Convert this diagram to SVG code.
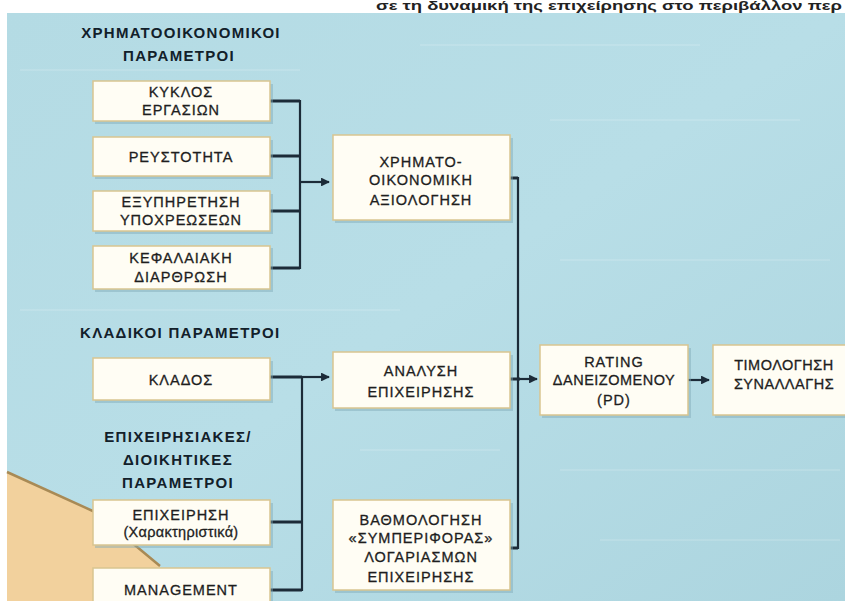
<svg xmlns="http://www.w3.org/2000/svg" width="845" height="601" viewBox="0 0 845 601">
<defs>
<linearGradient id="bg" x1="0" y1="0" x2="1" y2="1">
<stop offset="0" stop-color="#b4dbe4"/>
<stop offset="0.5" stop-color="#b8dee7"/>
<stop offset="1" stop-color="#acd5df"/>
</linearGradient>
<marker id="ah" viewBox="0 0 10 10" refX="9" refY="5" markerWidth="4.4" markerHeight="4" orient="auto" markerUnits="strokeWidth">
<path d="M0,0 L10,5 L0,10 Z" fill="#1c2b38"/>
</marker>
</defs>
<style>
.box{fill:#fffdf4;stroke:#d9c590;stroke-width:1.5}
.sh{fill:#7fa9b5;opacity:0.45}
.t{font-family:"Liberation Sans","DejaVu Sans",sans-serif;font-size:14.5px;fill:#1e1e1e;stroke:#1e1e1e;stroke-width:0.3;text-anchor:middle;letter-spacing:1px}
.h{font-family:"Liberation Sans","DejaVu Sans",sans-serif;font-size:15px;font-weight:bold;fill:#12202a;letter-spacing:1.3px}
.c{fill:none;stroke:#1c2b38;stroke-width:3}
.v{fill:none;stroke:#1c2b38;stroke-width:2.2}
</style>
<rect x="0" y="0" width="845" height="601" fill="#ffffff"/>
<rect x="7" y="13" width="838" height="588" fill="url(#bg)"/>
<g opacity="0.25" stroke="#ffffff" stroke-width="1">
<line x1="20" y1="70" x2="300" y2="70"/><line x1="420" y1="45" x2="700" y2="45"/><line x1="550" y1="120" x2="800" y2="120"/>
<line x1="560" y1="260" x2="830" y2="260"/><line x1="20" y1="310" x2="400" y2="310"/><line x1="560" y1="470" x2="840" y2="470"/>
<line x1="360" y1="450" x2="500" y2="450"/><line x1="600" y1="540" x2="840" y2="540"/>
</g>
<path d="M7,472 L95,512 L160,566 L160,601 L7,601 Z" fill="#f2d19d"/>
<path d="M7,472 L95,512 L160,566" fill="none" stroke="#a88a55" stroke-width="2.5" stroke-linejoin="round"/>
<text x="376" y="10" font-family="Liberation Sans, sans-serif" font-size="12.5" font-weight="bold" fill="#222" textLength="466" lengthAdjust="spacingAndGlyphs">σε τη δυναμική της επιχείρησης στο περιβάλλον περ</text>
<g id="labels">
<text class="h" x="181" y="38" text-anchor="middle">ΧΡΗΜΑΤΟΟΙΚΟΝΟΜΙΚΟΙ</text>
<text class="h" x="179" y="61" text-anchor="middle">ΠΑΡΑΜΕΤΡΟΙ</text>
<text class="h" x="80" y="338">ΚΛΑΔΙΚΟΙ ΠΑΡΑΜΕΤΡΟΙ</text>
<text class="h" x="178" y="442" text-anchor="middle">ΕΠΙΧΕΙΡΗΣΙΑΚΕΣ/</text>
<text class="h" x="178" y="465" text-anchor="middle">ΔΙΟΙΚΗΤΙΚΕΣ</text>
<text class="h" x="178" y="488" text-anchor="middle">ΠΑΡΑΜΕΤΡΟΙ</text>
</g>
<g id="connectors">
<path class="c" d="M270,101 H300 M270,156 H300 M270,211 H300 M270,268 H300"/>
<path class="v" d="M300,100 V269"/>
<path class="v" d="M300,182 H329" marker-end="url(#ah)"/>
<path class="c" d="M270,377 H302 M270,522 H302 M270,590 H302"/>
<path class="v" d="M302,376 V591"/>
<path class="v" d="M302,377 H329" marker-end="url(#ah)"/>
<path class="c" d="M510,178 H518 M510,548 H518"/>
<path class="v" d="M518,177 V549"/>
<path class="c" d="M510,379 H520"/>
<path class="v" d="M518,379 H537" marker-end="url(#ah)"/>
<path class="v" d="M688,380 H709" marker-end="url(#ah)"/>
</g>
<g id="n-kyklos"><rect class="sh" x="95" y="84" width="178" height="40"/><rect class="box" x="93" y="81" width="177" height="40"/><text class="t" x="181" y="97">ΚΥΚΛΟΣ</text><text class="t" x="181" y="115">ΕΡΓΑΣΙΩΝ</text></g>
<g id="n-reustotita"><rect class="sh" x="95" y="140" width="178" height="39"/><rect class="box" x="93" y="137" width="177" height="39"/><text class="t" x="181" y="162">ΡΕΥΣΤΟΤΗΤΑ</text></g>
<g id="n-exyp"><rect class="sh" x="95" y="194" width="178" height="40"/><rect class="box" x="93" y="191" width="177" height="40"/><text class="t" x="181" y="207">ΕΞΥΠΗΡΕΤΗΣΗ</text><text class="t" x="181" y="225">ΥΠΟΧΡΕΩΣΕΩΝ</text></g>
<g id="n-kefal"><rect class="sh" x="95" y="248" width="178" height="44"/><rect class="box" x="93" y="246" width="177" height="43"/><text class="t" x="181" y="263">ΚΕΦΑΛΑΙΑΚΗ</text><text class="t" x="181" y="282">ΔΙΑΡΘΡΩΣΗ</text></g>
<g id="n-xrim"><rect class="sh" x="335" y="138" width="178" height="85"/><rect class="box" x="333" y="135" width="177" height="85"/><text class="t" x="421" y="167">ΧΡΗΜΑΤΟ-</text><text class="t" x="421" y="185">ΟΙΚΟΝΟΜΙΚΗ</text><text class="t" x="421" y="205">ΑΞΙΟΛΟΓΗΣΗ</text></g>
<g id="n-klados"><rect class="sh" x="95" y="361" width="178" height="42"/><rect class="box" x="93" y="358" width="177" height="42"/><text class="t" x="181" y="385">ΚΛΑΔΟΣ</text></g>
<g id="n-analysi"><rect class="sh" x="335" y="355" width="178" height="56"/><rect class="box" x="333" y="352" width="177" height="56"/><text class="t" x="421" y="376">ΑΝΑΛΥΣΗ</text><text class="t" x="421" y="397">ΕΠΙΧΕΙΡΗΣΗΣ</text></g>
<g id="n-epixeirisi"><rect class="sh" x="95" y="503" width="178" height="45"/><rect class="box" x="93" y="500" width="177" height="45"/><text class="t" x="181" y="520">ΕΠΙΧΕΙΡΗΣΗ</text><text class="t" x="181" y="537" style="letter-spacing:0.3px">(Χαρακτηριστικά)</text></g>
<g id="n-management"><rect class="sh" x="95" y="571" width="178" height="40"/><rect class="box" x="93" y="568" width="177" height="40"/><text class="t" x="181" y="595">MANAGEMENT</text></g>
<g id="n-vathm"><rect class="sh" x="335" y="503" width="178" height="90"/><rect class="box" x="333" y="500" width="177" height="90"/><text class="t" x="421" y="525">ΒΑΘΜΟΛΟΓΗΣΗ</text><text class="t" x="421" y="543">«ΣΥΜΠΕΡΙΦΟΡΑΣ»</text><text class="t" x="421" y="562">ΛΟΓΑΡΙΑΣΜΩΝ</text><text class="t" x="421" y="582">ΕΠΙΧΕΙΡΗΣΗΣ</text></g>
<g id="n-rating"><rect class="sh" x="542" y="348" width="149" height="70"/><rect class="box" x="540" y="345" width="148" height="70"/><text class="t" x="614" y="367">RATING</text><text class="t" x="614" y="385" style="letter-spacing:0.5px">ΔΑΝΕΙΖΟΜΕΝΟΥ</text><text class="t" x="614" y="405">(PD)</text></g>
<g id="n-timologisi"><rect class="sh" x="715" y="348" width="140" height="70"/><rect class="box" x="713" y="345" width="140" height="70"/><text class="t" x="784" y="370" style="letter-spacing:0.5px">ΤΙΜΟΛΟΓΗΣΗ</text><text class="t" x="784" y="389" style="letter-spacing:0.5px">ΣΥΝΑΛΛΑΓΗΣ</text></g>
</svg>
